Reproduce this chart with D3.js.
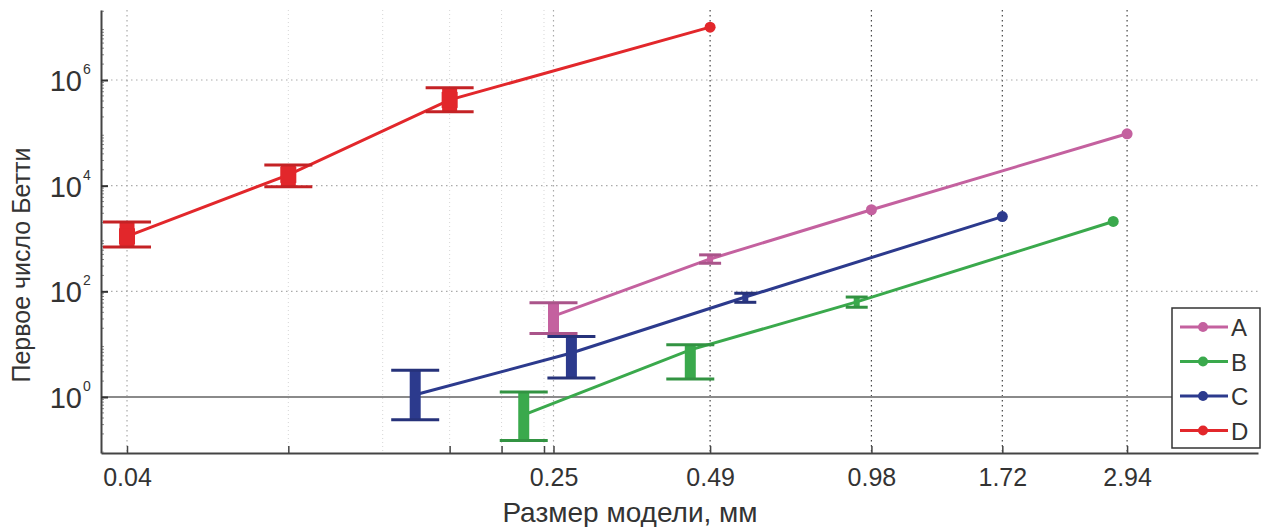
<!DOCTYPE html>
<html><head><meta charset="utf-8">
<script src="https://cdn.jsdelivr.net/npm/d3@7"></script>
<style>
body{margin:0;background:#fff;}
text{font-family:"Liberation Sans",Arial,sans-serif;fill:#333;}
</style></head>
<body><svg id="c" width="1274" height="527"></svg>
<script>
// ---- data ----
const seriesNames = ["A","B","C","D"];
const seriesColors = ["#c4619f","#3aa94c","#2c3a8d","#e2272b"];
const xA = [0.25, 0.49, 0.98, 2.94];
const yA = [34, 410, 3500, 96000];
const loA = [16, 340, null, null];
const hiA = [61, 490, null, null];
const xB = [0.22, 0.45, 0.92, 2.77];
const yB = [0.46, 7.8, 63, 2100];
const loB = [0.15, 2.2, 50, null];
const hiB = [1.25, 9.7, 78, null];
const xC = [0.138, 0.27, 0.57, 1.72];
const yC = [1.1, 6.8, 78, 2600];
const loC = [0.37, 2.3, 62, null];
const hiC = [3.2, 14, 92, null];
const xD = [0.04, 0.08, 0.16, 0.49];
const yD = [1100, 16000, 420000, 1e7];
const loD = [690, 9500, 250000, null];
const hiD = [2050, 24600, 710000, null];
const xTickValues = [0.04, 0.25, 0.49, 0.98, 1.72, 2.94];
const xTickLabels = ["0.04","0.25","0.49","0.98","1.72","2.94"];
const xMinorGrid = [0.08, 0.12, 0.16, 0.2, 0.24];
const yTickExps = [0, 2, 4, 6];
const xTitle = "Размер модели, мм";
const yTitle = "Первое число Бетти";

const xs = [xA,xB,xC,xD], ys=[yA,yB,yC,yD], los=[loA,loB,loC,loD], his=[hiA,hiB,hiC,hiD];

const svg = d3.select("#c");
const L=101, R=1258, T=10, B=453;
const x = d3.scaleLog().domain([0.03577, 5.16]).range([L, R]);
const y = d3.scaleLog().domain([Math.pow(10,-1.06), Math.pow(10,7.325)]).range([B, T]);

// minor vertical grid
svg.append("g").selectAll("line").data(xMinorGrid).join("line")
  .attr("x1",d=>x(d)).attr("x2",d=>x(d)).attr("y1",T).attr("y2",B)
  .attr("stroke","#d6d6d6").attr("stroke-width",1).attr("stroke-dasharray","1,3");
// major vertical grid
svg.append("g").selectAll("line").data(xTickValues).join("line")
  .attr("x1",d=>x(d)).attr("x2",d=>x(d)).attr("y1",T).attr("y2",B)
  .attr("stroke",(d,i)=>i<2?"#aaa":"#444").attr("stroke-width",1.2).attr("stroke-dasharray","1.5,3.5");
// horizontal grid
svg.append("g").selectAll("line").data(yTickExps.filter(e=>e>0)).join("line")
  .attr("x1",L).attr("x2",R).attr("y1",d=>y(Math.pow(10,d))).attr("y2",d=>y(Math.pow(10,d)))
  .attr("stroke","#aaa").attr("stroke-width",1.2).attr("stroke-dasharray","1.5,3.5");
// y=1 reference line
svg.append("line").attr("x1",L).attr("x2",R).attr("y1",y(1)).attr("y2",y(1))
  .attr("stroke","#8a8a8a").attr("stroke-width",2);

// axes
const xAxis = d3.axisBottom(x).tickValues(xTickValues.concat([0.08,0.16,0.2,0.24]))
  .tickSizeInner(-7).tickSizeOuter(0).tickFormat(d=>{const i=xTickValues.indexOf(d);return i>=0?xTickLabels[i]:"";});
const gx = svg.append("g").attr("transform",`translate(0,${B})`).call(xAxis);
gx.select(".domain").attr("stroke","#444").attr("stroke-width",2);
gx.selectAll(".tick line").attr("stroke","#444").attr("stroke-width",1.5);
gx.selectAll(".tick text").attr("y",15).attr("font-size","25px").attr("fill","#333")
  .style("font-family","Liberation Sans, Arial, sans-serif");

const yMinor=[];
for(let e=-2;e<=7;e++){for(let k=2;k<=9;k++){const v=k*Math.pow(10,e);if(v>y.domain()[0]&&v<y.domain()[1])yMinor.push(v);}}
svg.append("g").selectAll("line").data(yMinor).join("line")
  .attr("x1",L).attr("x2",L+3).attr("y1",d=>y(d)).attr("y2",d=>y(d)).attr("stroke","#888").attr("stroke-width",1);
const yAxis = d3.axisLeft(y).tickValues(yTickExps.map(e=>Math.pow(10,e))).tickSizeInner(-7).tickSizeOuter(0).tickFormat("");
const gy = svg.append("g").attr("transform",`translate(${L},0)`).call(yAxis);
gy.select(".domain").attr("stroke","#444").attr("stroke-width",2);
gy.selectAll(".tick line").attr("stroke","#333").attr("stroke-width",2);
svg.append("g").selectAll("text").data(yTickExps).join("text")
  .attr("x",82).attr("y",d=>y(Math.pow(10,d))+11).attr("text-anchor","end").attr("font-size","29px").text("10");
svg.append("g").selectAll("text").data(yTickExps).join("text")
  .attr("x",83).attr("y",d=>y(Math.pow(10,d))-6).attr("font-size","14px").text(d=>d);

// titles
svg.append("text").attr("x",630).attr("y",522).attr("text-anchor","middle").attr("font-size","28px").text(xTitle);
svg.append("text").attr("transform","translate(30,265) rotate(-90)").attr("text-anchor","middle").attr("font-size","25px").text(yTitle);

// series
const line = d3.line().x(d=>x(d[0])).y(d=>y(d[1]));
seriesNames.forEach((name,si)=>{
  const col = seriesColors[si];
  const pts = xs[si].map((v,i)=>[v, ys[si][i], los[si][i], his[si][i]]);
  const g = svg.append("g");
  g.append("path").datum(pts).attr("d",line).attr("fill","none").attr("stroke",col).attr("stroke-width",3);
  pts.forEach(p=>{
    const cx=x(p[0]);
    if(p[2]!=null){
      const y1=y(p[3]), y2=y(p[2]);
      const big = (y2-y1)>20;
      const hw = big?24:11;
      g.append("line").attr("x1",cx).attr("x2",cx).attr("y1",y1).attr("y2",y2)
        .attr("stroke",col).attr("stroke-width",big?(si===3?15:11):6);
      [y1,y2].forEach(yy=>g.append("line").attr("x1",cx-hw).attr("x2",cx+hw).attr("y1",yy).attr("y2",yy)
        .attr("stroke",d3.color(col).darker(0.4)).attr("stroke-width",3));
      if(si===3) g.append("rect").attr("x",cx-8).attr("y",y(p[1])-8).attr("width",16).attr("height",16).attr("fill",col);
    } else {
      g.append("circle").attr("cx",cx).attr("cy",y(p[1])).attr("r",5.5).attr("fill",col);
    }
  });
});

// legend
const lg = svg.append("g").attr("transform","translate(1172,308)");
lg.append("rect").attr("width",88).attr("height",140).attr("fill","#fff").attr("stroke","#333").attr("stroke-width",1.5);
seriesNames.forEach((n,i)=>{
  const yy = 19 + i*34.5;
  lg.append("line").attr("x1",8).attr("x2",56).attr("y1",yy).attr("y2",yy).attr("stroke",seriesColors[i]).attr("stroke-width",3);
  lg.append("circle").attr("cx",31).attr("cy",yy).attr("r",5).attr("fill",seriesColors[i]);
  lg.append("text").attr("x",59).attr("y",yy+9).attr("font-size","24px").text(n);
});
</script></body></html>
